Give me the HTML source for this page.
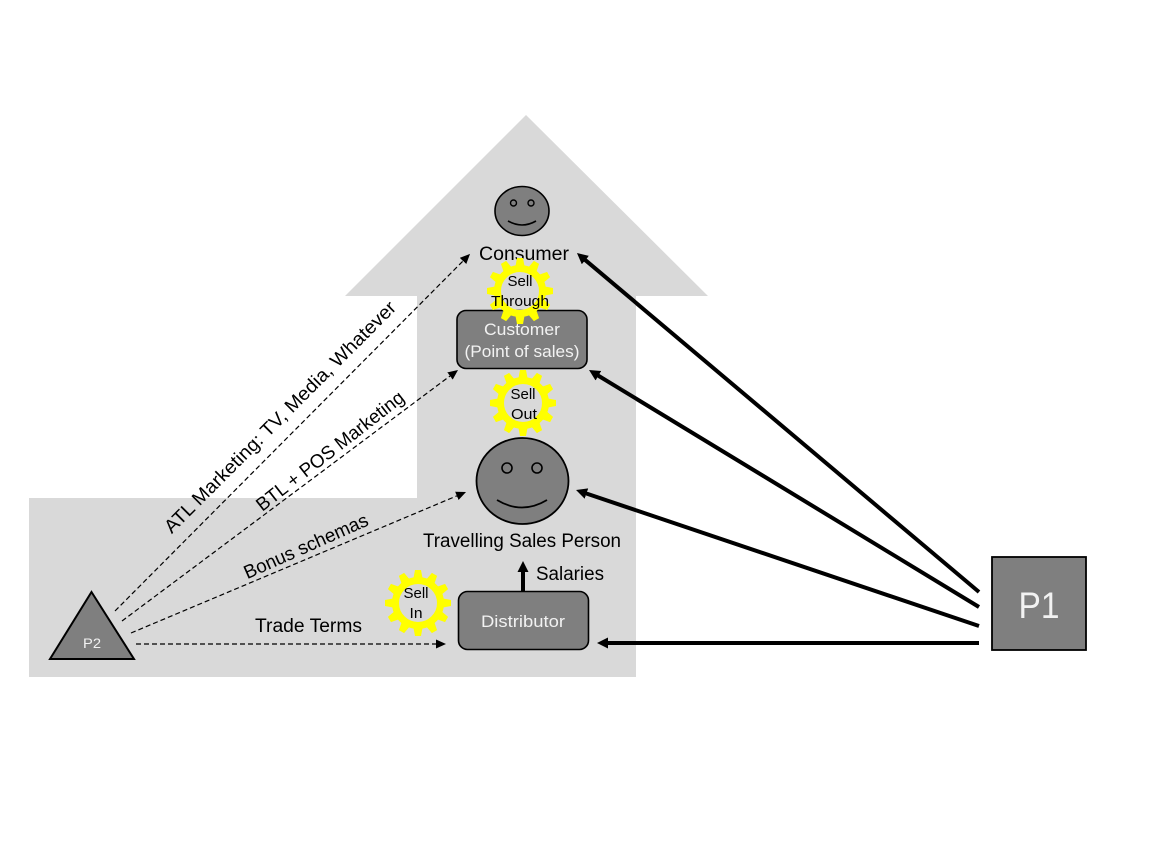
<!DOCTYPE html>
<html>
<head>
<meta charset="utf-8">
<style>
html,body{margin:0;padding:0;background:#fff}
svg{display:block}
text{font-family:"Liberation Sans",sans-serif;text-anchor:middle}
.w{fill:#f2f2f2}
.k{fill:#000}
</style>
</head>
<body>
<svg width="1154" height="866" viewBox="0 0 1154 866" xmlns="http://www.w3.org/2000/svg">
<defs>
<marker id="a" markerUnits="userSpaceOnUse" markerWidth="12" markerHeight="12" refX="0" refY="4.500" orient="auto"><path d="M0 0L10 4.500L0 9z" fill="#000"/></marker>
<marker id="b" markerUnits="userSpaceOnUse" markerWidth="13" markerHeight="13" refX="0.500" refY="5.500" orient="auto"><path d="M0 0L11 5.500L0 11z" fill="#000"/></marker>
<g id="gear" fill="#ffff00">
<circle r="22.500" fill="none" stroke="#ffff00" stroke-width="7"/>
<polygon id="t" points="-4.500,-25 -3,-33 3,-33 4.500,-25"/>
<use href="#t" transform="rotate(30)"/>
<use href="#t" transform="rotate(60)"/>
<use href="#t" transform="rotate(90)"/>
<use href="#t" transform="rotate(120)"/>
<use href="#t" transform="rotate(150)"/>
<use href="#t" transform="rotate(180)"/>
<use href="#t" transform="rotate(210)"/>
<use href="#t" transform="rotate(240)"/>
<use href="#t" transform="rotate(270)"/>
<use href="#t" transform="rotate(300)"/>
<use href="#t" transform="rotate(330)"/>
</g>
</defs>
<polygon points="526,115 708,296 636,296 636,677 29,677 29,498 417,498 417,296 345,296" fill="#d9d9d9"/>

<ellipse cx="522" cy="211" rx="27" ry="24.500" fill="#7f7f7f" stroke="#000" stroke-width="1.600"/>
<circle cx="513.500" cy="203" r="3" fill="#7f7f7f" stroke="#000" stroke-width="1.400"/>
<circle cx="531" cy="203" r="3" fill="#7f7f7f" stroke="#000" stroke-width="1.400"/>
<path d="M508 221Q522 229 536 221" fill="none" stroke="#000" stroke-width="1.600"/>
<text class="k" x="524" y="260" font-size="19" textLength="90" lengthAdjust="spacingAndGlyphs">Consumer</text>

<rect x="457" y="310.500" width="130" height="58" rx="9" fill="#7f7f7f" stroke="#000" stroke-width="1.600"/>
<text class="w" x="522" y="335" font-size="17" textLength="76" lengthAdjust="spacingAndGlyphs">Customer</text>
<text class="w" x="522" y="357" font-size="17" textLength="115" lengthAdjust="spacingAndGlyphs">(Point of sales)</text>

<use href="#gear" transform="translate(520,291)"/>
<use href="#gear" transform="translate(523,403)"/>
<use href="#gear" transform="translate(418,603)"/>
<text class="k" x="520" y="286" font-size="15" textLength="25" lengthAdjust="spacingAndGlyphs">Sell</text>
<text class="k" x="520" y="306" font-size="15" textLength="58" lengthAdjust="spacingAndGlyphs">Through</text>
<text class="k" x="523" y="399" font-size="15" textLength="25" lengthAdjust="spacingAndGlyphs">Sell</text>
<text class="k" x="524" y="419" font-size="15" textLength="26" lengthAdjust="spacingAndGlyphs">Out</text>
<text class="k" x="416" y="598" font-size="15" textLength="25" lengthAdjust="spacingAndGlyphs">Sell</text>
<text class="k" x="416" y="618" font-size="15" textLength="13" lengthAdjust="spacingAndGlyphs">In</text>

<ellipse cx="522.500" cy="481" rx="46" ry="43" fill="#7f7f7f" stroke="#000" stroke-width="1.800"/>
<circle cx="507" cy="468" r="5" fill="#7f7f7f" stroke="#000" stroke-width="1.600"/>
<circle cx="537" cy="468" r="5" fill="#7f7f7f" stroke="#000" stroke-width="1.600"/>
<path d="M497 500Q522 515 547 500" fill="none" stroke="#000" stroke-width="1.800"/>
<text class="k" x="522" y="547" font-size="19" textLength="198" lengthAdjust="spacingAndGlyphs">Travelling Sales Person</text>

<rect x="458.500" y="591.500" width="130" height="58" rx="9" fill="#7f7f7f" stroke="#000" stroke-width="1.600"/>
<text class="w" x="523" y="627" font-size="17" textLength="84" lengthAdjust="spacingAndGlyphs">Distributor</text>
<line x1="523" y1="591" x2="523" y2="571.500" stroke="#000" stroke-width="4" marker-end="url(#b)"/>
<text class="k" x="570" y="580" font-size="19" textLength="68" lengthAdjust="spacingAndGlyphs">Salaries</text>

<polygon points="91.500,592 134,659 50,659" fill="#7f7f7f" stroke="#000" stroke-width="2"/>
<text class="w" x="92" y="648" font-size="14" textLength="18" lengthAdjust="spacingAndGlyphs">P2</text>

<rect x="992" y="557" width="94" height="93" fill="#7f7f7f" stroke="#000" stroke-width="1.800"/>
<text class="w" x="1039" y="618" font-size="37" textLength="41" lengthAdjust="spacingAndGlyphs">P1</text>

<g stroke="#000" stroke-width="1.200" stroke-dasharray="5 3" fill="none">
<line x1="115" y1="611" x2="463" y2="261" marker-end="url(#a)"/>
<line x1="122" y1="621" x2="450" y2="376" marker-end="url(#a)"/>
<line x1="131" y1="633" x2="456.800" y2="495.900" marker-end="url(#a)"/>
<line x1="136" y1="644" x2="436" y2="644" marker-end="url(#a)"/>
</g>
<g stroke="#000" stroke-width="4" fill="none">
<line x1="979" y1="592" x2="585" y2="259.800" marker-end="url(#b)"/>
<line x1="979" y1="607" x2="598" y2="375.500" marker-end="url(#b)"/>
<line x1="979" y1="626" x2="586" y2="493.400" marker-end="url(#b)"/>
<line x1="979" y1="643" x2="607.500" y2="643" marker-end="url(#b)"/>
</g>

<text class="k" font-size="19" textLength="319" lengthAdjust="spacingAndGlyphs" transform="translate(284.500,421.500) rotate(-45)">ATL Marketing: TV, Media, Whatever</text>
<text class="k" font-size="19" textLength="182" lengthAdjust="spacingAndGlyphs" transform="translate(334,456) rotate(-38)">BTL + POS Marketing</text>
<text class="k" font-size="19" textLength="134" lengthAdjust="spacingAndGlyphs" transform="translate(308.500,552) rotate(-24)">Bonus schemas</text>
<text class="k" x="308.500" y="632" font-size="19" textLength="107" lengthAdjust="spacingAndGlyphs">Trade Terms</text>
</svg>
</body>
</html>
